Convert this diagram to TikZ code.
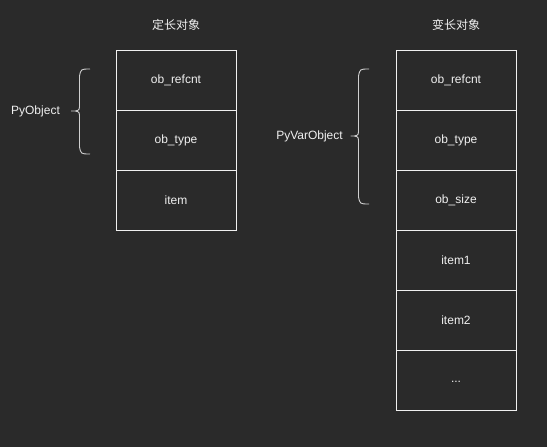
\documentclass[tikz,border=0pt]{standalone}
\usepackage{fontspec}
\setmainfont{Liberation Sans}
\newfontfamily\cjk{Noto Sans CJK SC}
\definecolor{bg}{HTML}{2A2A2A}
\definecolor{fg}{HTML}{F0F0F0}
\definecolor{brace}{HTML}{D0D0D0}
\begin{document}
\begin{tikzpicture}[x=1pt,y=-1pt,
  cell/.style={draw=fg,line width=0.9pt,minimum width=120pt,minimum height=60pt,inner sep=0pt,text=fg,font=\fontsize{12}{14}\selectfont},
  lbl/.style={text=fg,font=\fontsize{12}{14}\selectfont,inner sep=0pt},
  ttl/.style={text=fg,font=\cjk\fontsize{12}{14}\selectfont,inner sep=0pt},
  bracestyle/.style={draw=brace,line width=0.9pt}]
\fill[bg] (0,0) rectangle (547,447);
\useasboundingbox (0,0) rectangle (547,447);
% left structure
\node[ttl] (t1) at (176,25) {定长对象};
\node[cell] (a1) at (176,80) {ob\_refcnt};
\node[cell] (a2) at (176,140) {ob\_type};
\node[cell] (a3) at (176,200) {item};
% right structure
\node[ttl] (t2) at (456,25) {变长对象};
\node[cell] (b1) at (456,80) {ob\_refcnt};
\node[cell] (b2) at (456,140) {ob\_type};
\node[cell] (b3) at (456,200) {ob\_size};
\node[cell] (b4) at (456,260) {item1};
\node[cell] (b5) at (456,320) {item2};
\node[cell] (b6) at (456,380) {\vphantom{Ig}...};
% labels
\node[lbl] (p1) at (35.5,111) {PyObject};
\node[lbl] (p2) at (309.5,136) {PyVarObject};
% braces
\draw[bracestyle] (90,69) .. controls (81,69) .. (79.5,76) -- (79.5,104)
  .. controls (79.5,110) .. (75.5,111) -- (71,111);
\draw[bracestyle] (75.5,111) .. controls (79.5,112) .. (79.5,118) -- (79.5,147)
  .. controls (81,154) .. (90,154);
\draw[bracestyle] (369,69) .. controls (360,69) .. (358.5,76) -- (358.5,129)
  .. controls (358.5,135) .. (354.5,136) -- (350.5,136);
\draw[bracestyle] (354.5,136) .. controls (358.5,137) .. (358.5,143) -- (358.5,197)
  .. controls (360,204) .. (369,204);
\end{tikzpicture}
\end{document}
